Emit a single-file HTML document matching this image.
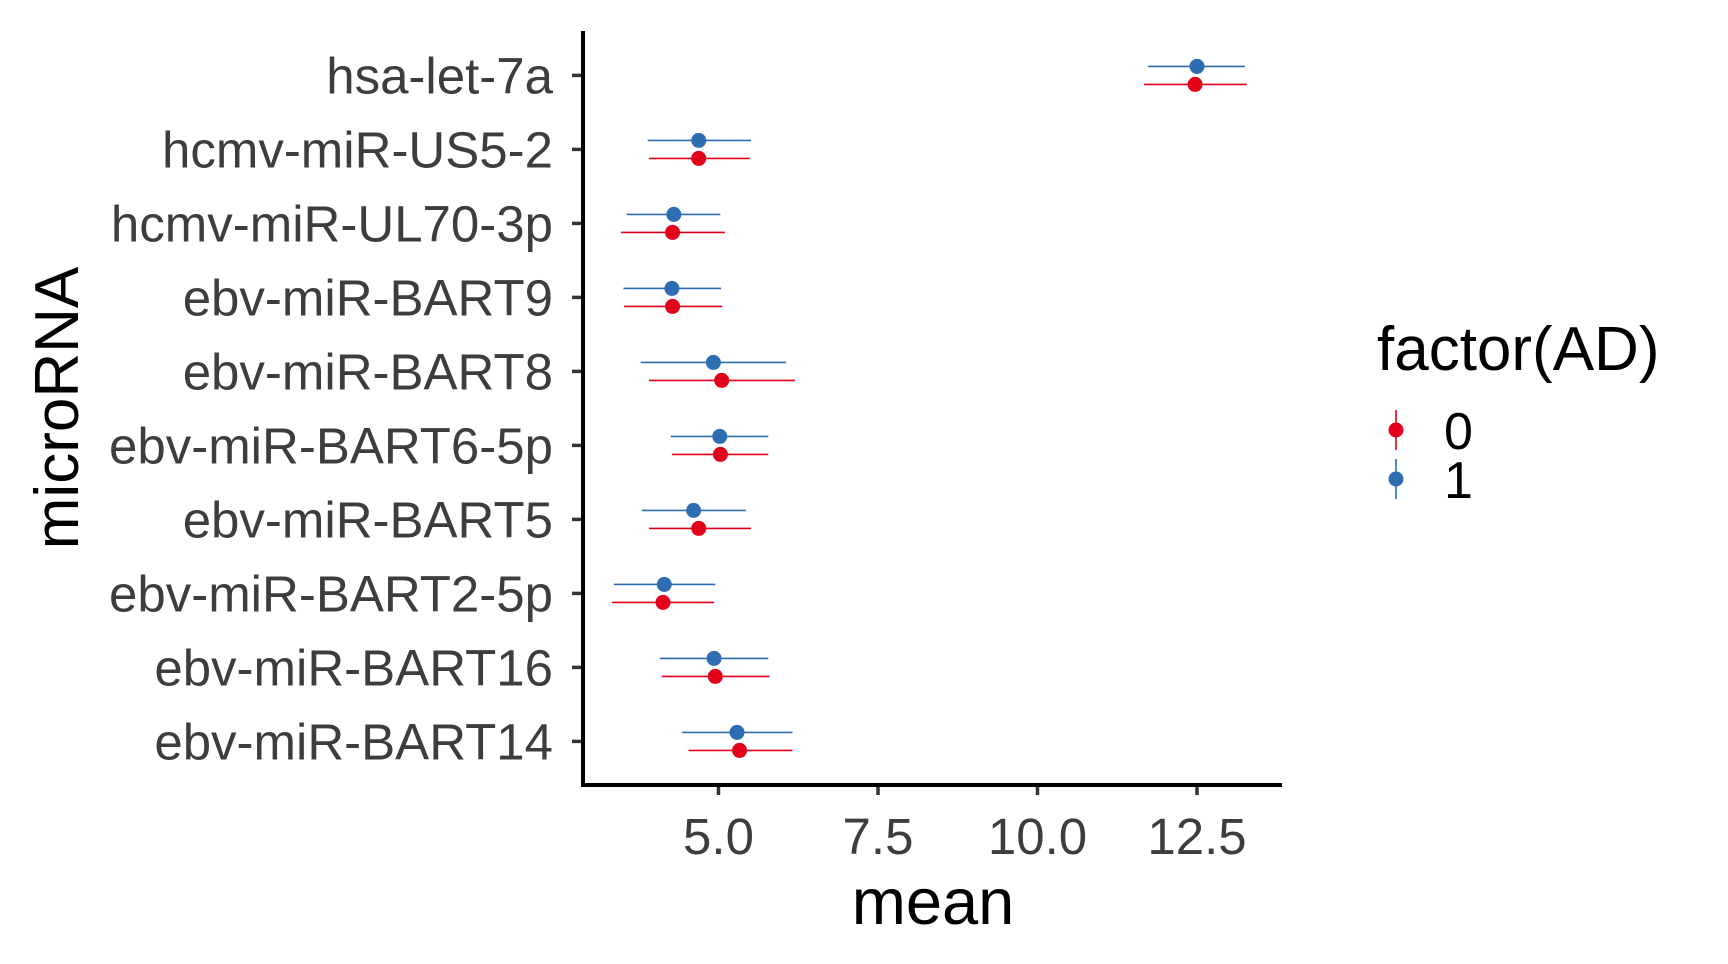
<!DOCTYPE html>
<html><head><meta charset="utf-8"><style>
html,body{margin:0;padding:0;background:#fff;}
svg{display:block;font-family:"Liberation Sans",Arial,sans-serif;}
</style></head><body>
<svg id="chart" width="1728" height="964" viewBox="0 0 1728 964" xmlns="http://www.w3.org/2000/svg">
<g id="marks"></g>
<g id="axes"></g>
<text x="933" y="924" font-size="65" text-anchor="middle" fill="#000">mean</text>
<text transform="translate(78,408) rotate(-90)" font-size="62" text-anchor="middle" fill="#000">microRNA</text>
<g>
<text x="1377" y="370" font-size="62" fill="#000">factor(AD)</text>
<g>
<line x1="1396" y1="410" x2="1396" y2="450" stroke="#E3001B" stroke-width="1.6"/>
<circle cx="1396" cy="430" r="7.5" fill="#E3001B"/>
<text x="1444" y="449" font-size="52" fill="#000">0</text></g>
<g>
<line x1="1396" y1="459" x2="1396" y2="499" stroke="#2F6DB3" stroke-width="1.6"/>
<circle cx="1396" cy="479" r="7.5" fill="#2F6DB3"/>
<text x="1444" y="498" font-size="52" fill="#000">1</text></g>
</g>
</svg>
<script>
const categories=["hsa-let-7a","hcmv-miR-US5-2","hcmv-miR-UL70-3p","ebv-miR-BART9","ebv-miR-BART8","ebv-miR-BART6-5p","ebv-miR-BART5","ebv-miR-BART2-5p","ebv-miR-BART16","ebv-miR-BART14"];
const mean0=[12.47,4.69,4.28,4.28,5.05,5.03,4.69,4.13,4.95,5.33];
const lo0=[11.67,3.91,3.47,3.52,3.91,4.27,3.91,3.33,4.11,4.53];
const hi0=[13.28,5.49,5.10,5.06,6.20,5.78,5.51,4.93,5.80,6.16];
const mean1=[12.50,4.69,4.30,4.27,4.92,5.02,4.61,4.15,4.93,5.29];
const lo1=[11.73,3.89,3.56,3.51,3.78,4.25,3.80,3.36,4.08,4.43];
const hi1=[13.25,5.51,5.03,5.04,6.06,5.78,5.43,4.95,5.78,6.16];
const xTicks=[5.0,7.5,10.0,12.5];
const xTickLabels=["5.0","7.5","10.0","12.5"];
const NS="http://www.w3.org/2000/svg";
const X=v=>718.5+(v-5)*63.8;
const Y=i=>75.4+i*74.0;
function mk(tag,attrs,parent){const e=document.createElementNS(NS,tag);for(const k in attrs)e.setAttribute(k,attrs[k]);parent.appendChild(e);return e;}
const marks=document.getElementById('marks'),axes=document.getElementById('axes');
categories.forEach((c,i)=>{
  const g=mk('g',{},marks);
  
  
  const y1=Y(i)-9,y0=Y(i)+9;
  const l1=mk('line',{x1:X(lo1[i]),x2:X(hi1[i]),y1:y1,y2:y1,stroke:'#2F6DB3','stroke-width':1.6},g);
  
  
  const p1=mk('circle',{cx:X(mean1[i]),cy:y1,r:7.5,fill:'#2F6DB3'},g);
  
  
  const l0=mk('line',{x1:X(lo0[i]),x2:X(hi0[i]),y1:y0,y2:y0,stroke:'#E3001B','stroke-width':1.6},g);
  
  
  const p0=mk('circle',{cx:X(mean0[i]),cy:y0,r:7.5,fill:'#E3001B'},g);
  
  
  const t=mk('line',{x1:572,x2:582,y1:Y(i),y2:Y(i),stroke:'#333','stroke-width':3.5},axes);
  
  
  const tl=mk('text',{x:553,y:Y(i)+18,'font-size':51,'text-anchor':'end',fill:'#3d3d3d'},axes);
  tl.textContent=c;
  
  
});
xTicks.forEach((v,i)=>{
  const t=mk('line',{x1:X(v),x2:X(v),y1:785,y2:795,stroke:'#333','stroke-width':3.5},axes);
  
  
  const tl=mk('text',{x:X(v),y:854,'font-size':51,'text-anchor':'middle',fill:'#3d3d3d'},axes);
  tl.textContent=xTickLabels[i];
  
  
});
const ya=mk('line',{x1:583,x2:583,y1:31,y2:787,stroke:'#000','stroke-width':4},axes);


const xa=mk('line',{x1:581,x2:1282,y1:785,y2:785,stroke:'#000','stroke-width':4},axes);


</script>
</body></html>
